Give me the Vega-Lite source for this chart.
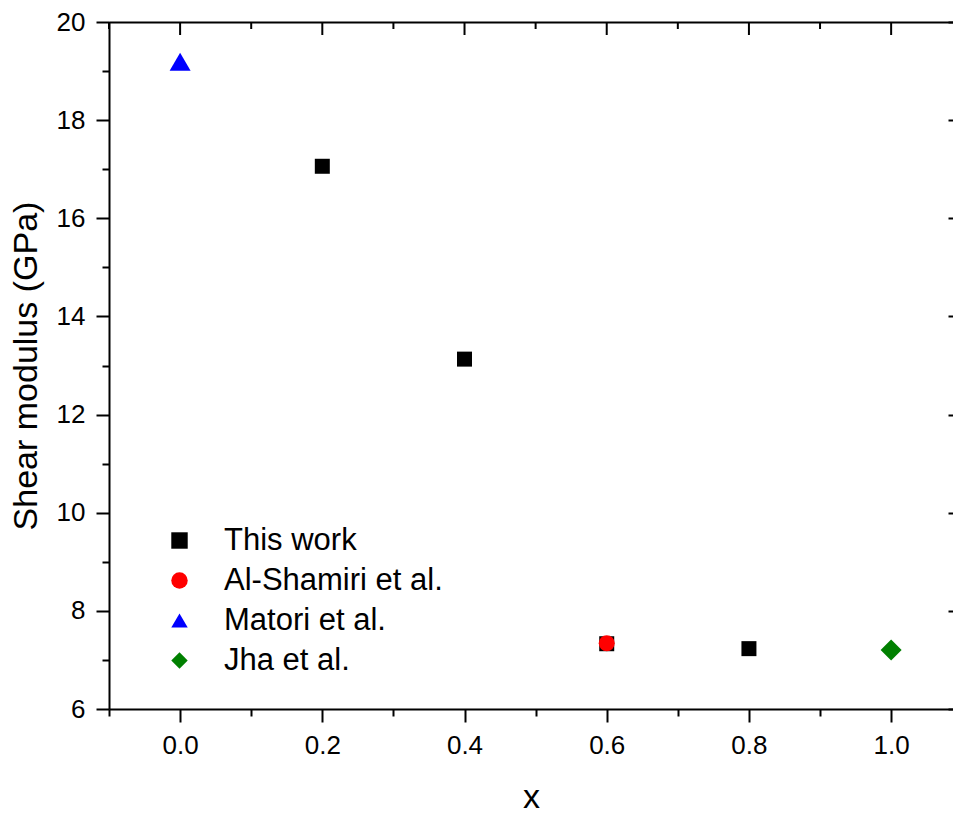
{
  "$schema": "https://vega.github.io/schema/vega-lite/v6.json",
  "autosize": {"type": "none"},
  "width": 844,
  "height": 687,
  "padding": {"left": 109, "top": 22, "right": 0, "bottom": 105},
  "background": "white",
  "config": {
    "view": {"stroke": null},
    "font": "Liberation Sans",
    "axis": {
      "domainColor": "black", "domainWidth": 2, "tickColor": "black", "tickWidth": 2,
      "labelColor": "black", "titleColor": "black", "labelFont": "Liberation Sans",
      "titleFont": "Liberation Sans", "titleFontWeight": "normal", "grid": false,
      "labelFontSize": 26, "titleFontSize": 34
    },
    "legend": {"labelFont": "Liberation Sans", "labelColor": "black", "symbolSize": 270}
  },
  "datasets": {
    "points": [
      {"x": 0.2, "G": 17.06, "series": "This work"},
      {"x": 0.4, "G": 13.13, "series": "This work"},
      {"x": 0.6, "G": 7.33, "series": "This work"},
      {"x": 0.8, "G": 7.23, "series": "This work"},
      {"x": 0.6, "G": 7.34, "series": "Al-Shamiri et al."},
      {"x": 0.0, "G": 19.19, "series": "Matori et al."},
      {"x": 1.0, "G": 7.2, "series": "Jha et al."}
    ],
    "topMajor": [{"t": 0.0}, {"t": 0.2}, {"t": 0.4}, {"t": 0.6}, {"t": 0.8}, {"t": 1.0}],
    "topMinor": [{"t": -0.1}, {"t": 0.1}, {"t": 0.3}, {"t": 0.5}, {"t": 0.7}, {"t": 0.9}]
  },
  "data": {"name": "points"},
  "layer": [
    {
      "transform": [{"filter": "datum.series === 'This work'"}],
      "mark": {"type": "point", "filled": true, "opacity": 1, "size": 225},
      "encoding": {
        "x": {"field": "x", "type": "quantitative",
          "scale": {"domain": [-0.1, 1.087], "nice": false, "zero": false},
          "axis": {"orient": "bottom", "title": "x",
            "values": [0, 0.2, 0.4, 0.6, 0.8, 1.0],
            "format": ".1f", "tickSize": 13,
            "labelPadding": 10, "titlePadding": 22, "labelFlush": false, "labelOverlap": false}},
        "y": {"field": "G", "type": "quantitative",
          "scale": {"domain": [6, 20], "nice": false, "zero": false},
          "axis": {"orient": "left", "title": "Shear modulus (GPa)",
            "values": [6, 8, 10, 12, 14, 16, 18, 20], "tickSize": 13,
            "labelPadding": 11, "titlePadding": 13, "labelFlush": false, "labelOverlap": false}},
        "color": {"field": "series", "type": "nominal",
          "scale": {"domain": ["This work", "Al-Shamiri et al.", "Matori et al.", "Jha et al."],
                    "range": ["#000000", "#ff0000", "#0000ff", "#008000"]},
          "legend": {"title": null, "orient": "none", "legendX": 55, "legendY": 503,
            "labelFontSize": 31, "rowPadding": 8, "padding": 0, "labelLimit": 400,
            "labelOffset": 29, "symbolStrokeWidth": 0}},
        "shape": {"field": "series", "type": "nominal",
          "scale": {"domain": ["This work", "Al-Shamiri et al.", "Matori et al.", "Jha et al."],
                    "range": ["square", "circle", "triangle-up", "diamond"]},
          "legend": {"title": null, "orient": "none", "legendX": 55, "legendY": 503,
            "labelFontSize": 31, "rowPadding": 8, "padding": 0, "labelLimit": 400,
            "labelOffset": 29, "symbolStrokeWidth": 0}}
      }
    },
    {
      "transform": [{"filter": "datum.series === 'Al-Shamiri et al.'"}],
      "mark": {"type": "point", "filled": true, "opacity": 1, "size": 256},
      "encoding": {
        "x": {"field": "x", "type": "quantitative",
          "axis": {"orient": "bottom", "title": null, "labels": false, "domain": false,
            "values": [-0.1, 0.1, 0.3, 0.5, 0.7, 0.9], "tickSize": 7}},
        "y": {"field": "G", "type": "quantitative",
          "axis": {"orient": "left", "title": null, "labels": false, "domain": false,
            "values": [7, 9, 11, 13, 15, 17, 19], "tickSize": 7}},
        "color": {"field": "series", "type": "nominal"},
        "shape": {"field": "series", "type": "nominal"}
      }
    },
    {
      "transform": [{"filter": "datum.series === 'Matori et al.'"}],
      "mark": {"type": "point", "filled": true, "opacity": 1, "size": 441},
      "encoding": {
        "x": {"field": "x", "type": "quantitative",
          "axis": {"orient": "top", "title": null, "labels": false, "ticks": false,
            "values": [0, 0.2, 0.4, 0.6, 0.8, 1.0]}},
        "y": {"field": "G", "type": "quantitative",
          "axis": {"orient": "right", "title": null, "labels": false, "domain": false,
            "values": [6, 8, 10, 12, 14, 16, 18, 20], "tickSize": -5}},
        "color": {"field": "series", "type": "nominal"},
        "shape": {"field": "series", "type": "nominal"}
      }
    },
    {
      "transform": [{"filter": "datum.series === 'Jha et al.'"}],
      "mark": {"type": "point", "filled": true, "opacity": 1, "size": 441},
      "encoding": {
        "x": {"field": "x", "type": "quantitative", "axis": null},
        "y": {"field": "G", "type": "quantitative", "axis": null},
        "color": {"field": "series", "type": "nominal"},
        "shape": {"field": "series", "type": "nominal"}
      }
    },
    {
      "data": {"name": "topMajor"},
      "mark": {"type": "rule", "color": "black", "strokeWidth": 2},
      "encoding": {
        "x": {"field": "t", "type": "quantitative", "axis": null},
        "y": {"datum": 20, "type": "quantitative", "axis": null},
        "y2": {"datum": 19.735}
      }
    },
    {
      "data": {"name": "topMinor"},
      "mark": {"type": "rule", "color": "black", "strokeWidth": 2},
      "encoding": {
        "x": {"field": "t", "type": "quantitative", "axis": null},
        "y": {"datum": 20, "type": "quantitative", "axis": null},
        "y2": {"datum": 19.857}
      }
    }
  ],
  "resolve": {"axis": {"x": "independent", "y": "independent"}}
}
